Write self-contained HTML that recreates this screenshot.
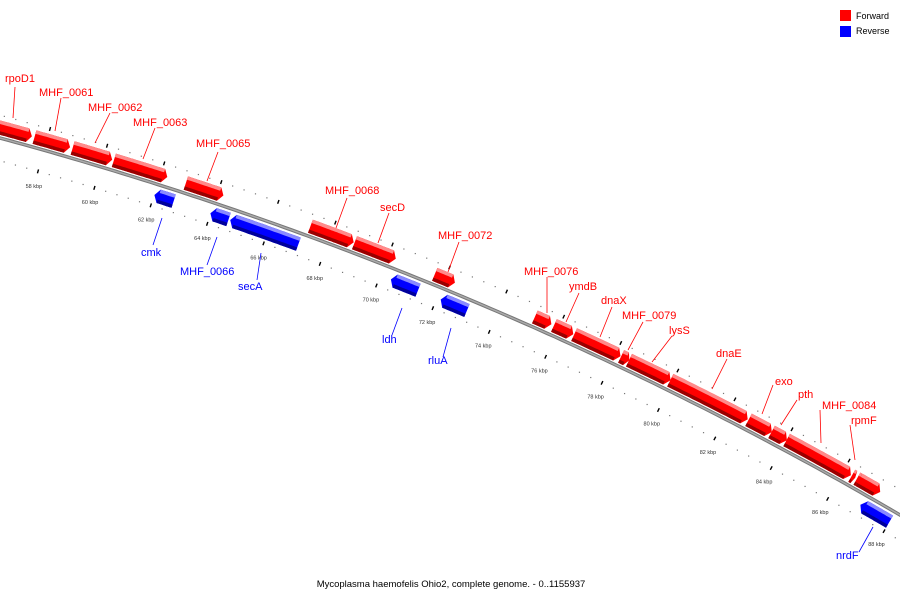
<!DOCTYPE html>
<html><head><meta charset="utf-8"><style>
body{margin:0;background:#fff}
svg{display:block;font-family:"Liberation Sans",sans-serif}
</style></head><body>
<svg id="chart" width="900" height="600" viewBox="0 0 900 600" xmlns="http://www.w3.org/2000/svg">
<g>
<rect x="840" y="10" width="11" height="11" fill="#f00"/>
<text x="856" y="19" font-size="9" fill="#000">Forward</text>
<rect x="840" y="26" width="11" height="11" fill="#00f"/>
<text x="856" y="34" font-size="9" fill="#000">Reverse</text>
</g>
<text x="451" y="587" font-size="9.5" text-anchor="middle" fill="#000">Mycoplasma haemofelis Ohio2, complete genome. - 0..1155937</text>
<g id="layer"></g>
</svg>
<script>
const fwdNames=["rpoD1","MHF_0061","MHF_0062","MHF_0063","MHF_0065","MHF_0068","secD","MHF_0072","MHF_0076","ymdB","dnaX","MHF_0079","lysS","dnaE","exo","pth","MHF_0084","","","rpmF"];
const fwdStart=[55.7,57.54,58.88,60.33,62.86,67.24,68.79,71.61,75.13,75.80,76.51,78.16,78.44,79.89,82.64,83.45,83.98,86.27,86.45,86.52];
const fwdEnd=[57.51,58.85,60.33,62.27,64.24,68.82,70.30,72.38,75.77,76.54,78.20,78.51,79.96,82.67,83.52,84.05,86.30,86.45,86.62,87.33];
const revNames=["cmk","MHF_0066","secA","ldh","rluA","nrdF"];
const revStart=[61.98,63.96,64.66,70.34,72.10,86.94];
const revEnd=[62.72,64.66,67.13,71.36,73.09,88.03];
const tickKbp=[58,60,62,64,66,68,70,72,74,76,78,80,82,84,86,88];
const tickLabels=["58 kbp","60 kbp","62 kbp","64 kbp","66 kbp","68 kbp","70 kbp","72 kbp","74 kbp","76 kbp","78 kbp","80 kbp","82 kbp","84 kbp","86 kbp","88 kbp"];
// label annotation layout: [text x, center y, leader x1,y1,x2,y2]
const fwdLabelPos=[[5,78,15,87,13,118],[39,92,61,98,55,131],[88,107,110,113,95,143],[133,122,155,128,143,159],[196,143,218,152,207,181],[325,190,347,198,336,228],[380,207,389,213,378,243],[438,235,459,242,448,272],[524,271,547,277,547,313],[569,286,579,293,566,322],[601,300,612,307,600,337],[622,315,643,322,628,350],[669,330,672,336,652,362],[716,353,727,359,712,389],[775,381,773,385,762,414],[798,394,797,400,781,425],[822,405,820,410,821,443],null,null,[851,420,850,425,855,460]];
const revLabelPos=[[141,252,162,218,153,245],[180,271,217,237,207,265],[238,286,261,253,257,280],[382,339,402,308,392,335],[428,360,451,328,443,357],[836,555,873,527,859,552]];

const NS="http://www.w3.org/2000/svg";
const layer=document.getElementById('layer');
function mk(t,a,p){const e=document.createElementNS(NS,t);for(const k in a)e.setAttribute(k,a[k]);(p||layer).appendChild(e);return e;}
// circle through backbone points
const A=[0,138],B=[620,367],C=[900,515];
const D=2*(A[0]*(B[1]-C[1])+B[0]*(C[1]-A[1])+C[0]*(A[1]-B[1]));
const sq=p=>p[0]*p[0]+p[1]*p[1];
const cx=(sq(A)*(B[1]-C[1])+sq(B)*(C[1]-A[1])+sq(C)*(A[1]-B[1]))/D;
const cy=(sq(A)*(C[0]-B[0])+sq(B)*(A[0]-C[0])+sq(C)*(B[0]-A[0]))/D;
const R=Math.hypot(A[0]-cx,A[1]-cy);
function ang(k){const x=44+(k-58)*28.37;const y=cy-Math.sqrt(R*R-(x-cx)*(x-cx));return Math.atan2(y-cy,x-cx);}
function pt(k,d){const a=ang(k);return [cx+(R+d)*Math.cos(a),cy+(R+d)*Math.sin(a)];}
function P(p){return p[0].toFixed(1)+','+p[1].toFixed(1);}

// backbone
let bb=[];for(let k=53;k<=90;k+=0.25)bb.push(P(pt(k,0)));
let e=mk('polyline',{points:bb.join(' '),fill:'none',stroke:'#777','stroke-width':3.5});


e=mk('polyline',{points:bb.join(' '),fill:'none',stroke:'#aaa','stroke-width':1.5});



// tick rings
for(let k=54;k<=90.01;k+=0.4){
  const kk=Math.round(k*10)/10;
  const major=Math.abs(kk/2-Math.round(kk/2))<0.01;
  [22,-22].forEach(d=>{
    if(major){
      const a=pt(kk,d-2),b=pt(kk,d+2);
      const t=mk('line',{x1:a[0],y1:a[1],x2:b[0],y2:b[1],stroke:'#000','stroke-width':1.4});
      
      
    }else{
      const p=pt(kk,d);
      const t=mk('rect',{x:p[0]-0.6,y:p[1]-0.6,width:1.2,height:1.2,fill:'#777'});
      
      
    }
  });
}
tickKbp.forEach((k,i)=>{
  const p=pt(k,-37);
  const t=mk('text',{x:p[0],y:p[1]+2,'font-size':5.5,'text-anchor':'middle',fill:'#333'});
  t.textContent=tickLabels[i];
  
  
});

function band(s,e,d0,d1){let o=[],n=[];const st=Math.max(0.05,(e-s)/20);for(let k=s;k<e;k+=st){o.push(pt(k,d1));n.push(pt(k,d0));}o.push(pt(e,d1));n.push(pt(e,d0));return o.concat(n.reverse());}
function gene(s,e,dir,col,light,dark,name){
  const g=mk('g',{});
  
  
  const tip=Math.min(0.15,(e-s)*0.4);
  const lo=dir>0?3:-4, hi=dir>0?17:-18;
  const mid=(lo+hi)/2;
  let body;
  if(dir>0){body=band(s,e-tip,lo,hi);body.splice(body.length/2,0,pt(e,mid));}
  else{body=band(s+tip,e,lo,hi);body.push(pt(s,mid));}
  mk('polygon',{points:body.map(P).join(' '),fill:col},g);
  // light band at screen-top side, dark at bottom side
  const ls=dir>0?s:s+tip, le=dir>0?e-tip:e;
  if(dir>0){
    mk('polygon',{points:band(ls,le,hi-3.5,hi).map(P).join(' '),fill:light},g);
    mk('polygon',{points:band(ls,le,lo,lo+3.5).map(P).join(' '),fill:dark},g);
  }else{
    mk('polygon',{points:band(ls,le,lo-3.5,lo).map(P).join(' '),fill:light},g);
    mk('polygon',{points:band(ls,le,hi,hi+3.5).map(P).join(' '),fill:dark},g);
  }
}
fwdStart.forEach((s,i)=>gene(s+0.03,fwdEnd[i]-0.03,1,'#f00','#ff8a8a','#9a0000',fwdNames[i]));
revStart.forEach((s,i)=>gene(s+0.03,revEnd[i]-0.03,-1,'#00f','#8a8aff','#00009a',revNames[i]));

function label(name,pos,col){
  if(!pos)return;
  const l=mk('line',{x1:pos[2],y1:pos[3],x2:pos[4],y2:pos[5],stroke:col,'stroke-width':0.8});
  
  
  const t=mk('text',{x:pos[0],y:pos[1]+4,'font-size':11,fill:col});
  t.textContent=name;
  
  
}
fwdNames.forEach((n,i)=>label(n,fwdLabelPos[i],'#f00'));
revNames.forEach((n,i)=>label(n,revLabelPos[i],'#00f'));
</script>
</body></html>
